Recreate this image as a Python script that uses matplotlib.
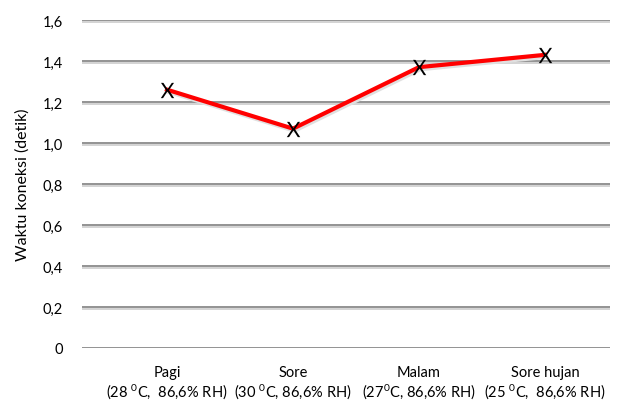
import matplotlib.pyplot as plt
import matplotlib.patheffects as pe
import numpy as np

plt.rcParams['font.family'] = ['Lato', 'DejaVu Sans']
plt.rcParams['mathtext.fontset'] = 'custom'
plt.rcParams['mathtext.rm'] = 'Lato'
plt.rcParams['mathtext.it'] = 'Lato'

kategori = ['Pagi\n(28 $^{0}$C,  86,6% RH)',
            'Sore\n(30 $^{0}$C, 86,6% RH)',
            'Malam\n(27$^{0}$C, 86,6% RH)',
            'Sore hujan\n(25 $^{0}$C,  86,6% RH)']
waktu = [1.26, 1.07, 1.37, 1.43]
yticks = [0, 0.2, 0.4, 0.6, 0.8, 1.0, 1.2, 1.4, 1.6]
ylabels = ['0', '0,2', '0,4', '0,6', '0,8', '1,0', '1,2', '1,4', '1,6']

fig = plt.figure(figsize=(6.22, 4.06), dpi=100)
ax = fig.add_axes([0.1318, 0.1404, 0.8489, 0.8079])

x = np.arange(len(waktu))
for yv in yticks:
    ax.axhline(yv, color='#8a8a8a', lw=1.3, zorder=1,
               path_effects=[pe.SimpleLineShadow(offset=(0, -1.5), shadow_color='#d0d0d0', alpha=1),
                             pe.Normal()])
ax.plot(x, waktu, color='#ff0000', lw=3, zorder=3,
        path_effects=[pe.SimpleLineShadow(offset=(1, -1.5), shadow_color='#e0e0e0', alpha=1),
                      pe.Normal()])
ax.plot(x, waktu, ls='none', marker=r'$\mathrm{X}$', ms=11, mew=0, color='black', zorder=4)

ax.set_xlim(-0.675, 3.516)
ax.set_ylim(0, 1.6)
ax.set_yticks(yticks)
ax.set_yticklabels(ylabels, fontsize=10.5)
ax.set_xticks(x)
ax.set_xticklabels(kategori, fontsize=10.5, linespacing=1.15)
ax.tick_params(axis='y', length=0, pad=14)
ax.tick_params(axis='x', length=0, pad=12)
for s in ax.spines.values():
    s.set_visible(False)
ax.set_ylabel('Waktu koneksi (detik)', fontsize=11.5, labelpad=9)

fig.savefig('out.png', dpi=100)
